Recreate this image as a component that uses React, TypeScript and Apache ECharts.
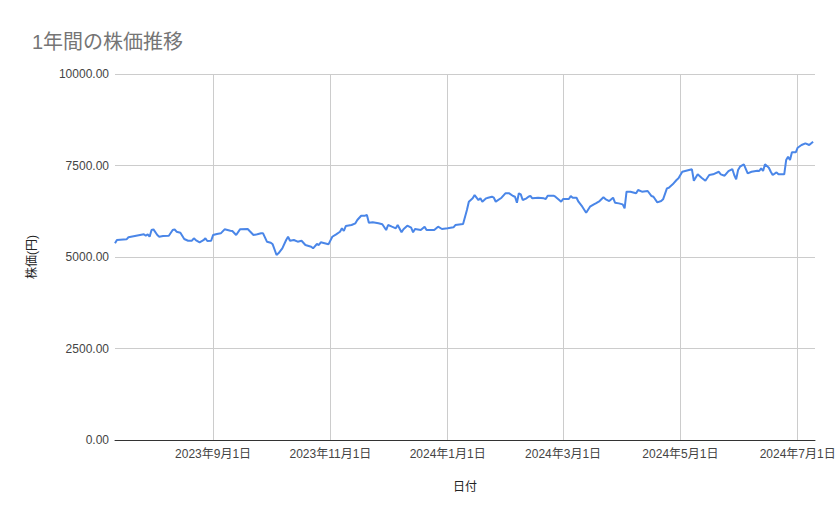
import React, { useEffect, useRef } from "react";
import * as echarts from "echarts";

const titleText = "1年間の株価推移";
const xAxisTitle = "日付";
const yAxisTitle = "株価(円)";

const dates: string[] = [
  "2023-07-12", "2023-07-13", "2023-07-18", "2023-07-19", "2023-07-25", "2023-07-27", "2023-07-28", "2023-07-29", "2023-07-30", "2023-07-31",
  "2023-08-01", "2023-08-03", "2023-08-04", "2023-08-06", "2023-08-09", "2023-08-11", "2023-08-12", "2023-08-13", "2023-08-15", "2023-08-17",
  "2023-08-19", "2023-08-21", "2023-08-22", "2023-08-23", "2023-08-25", "2023-08-27", "2023-08-28", "2023-08-29", "2023-08-31",
  "2023-09-01", "2023-09-03", "2023-09-05", "2023-09-07", "2023-09-10", "2023-09-11", "2023-09-13", "2023-09-15", "2023-09-19", "2023-09-20",
  "2023-09-22", "2023-09-24", "2023-09-26", "2023-09-27", "2023-09-29",
  "2023-10-01", "2023-10-02", "2023-10-04", "2023-10-05", "2023-10-07", "2023-10-09", "2023-10-10", "2023-10-11", "2023-10-13", "2023-10-15",
  "2023-10-17", "2023-10-19", "2023-10-22", "2023-10-23", "2023-10-25", "2023-10-26", "2023-10-27", "2023-10-29", "2023-10-31",
  "2023-11-02", "2023-11-04", "2023-11-06", "2023-11-07", "2023-11-08", "2023-11-09", "2023-11-12", "2023-11-14", "2023-11-15", "2023-11-17",
  "2023-11-19", "2023-11-20", "2023-11-21", "2023-11-23", "2023-11-26", "2023-11-28", "2023-11-30",
  "2023-12-01", "2023-12-03", "2023-12-05", "2023-12-06", "2023-12-08", "2023-12-09", "2023-12-11", "2023-12-13", "2023-12-14", "2023-12-15",
  "2023-12-18", "2023-12-20", "2023-12-21", "2023-12-25", "2023-12-27", "2023-12-29",
  "2024-01-01", "2024-01-04", "2024-01-05", "2024-01-09", "2024-01-11", "2024-01-12", "2024-01-14", "2024-01-15", "2024-01-17", "2024-01-18",
  "2024-01-19", "2024-01-21", "2024-01-22", "2024-01-24", "2024-01-25", "2024-01-26", "2024-01-29", "2024-01-31",
  "2024-02-02", "2024-02-04", "2024-02-05", "2024-02-06", "2024-02-07", "2024-02-08", "2024-02-09", "2024-02-11", "2024-02-12", "2024-02-13",
  "2024-02-14", "2024-02-17", "2024-02-20", "2024-02-21", "2024-02-22", "2024-02-25", "2024-02-26", "2024-02-28", "2024-02-29",
  "2024-03-01", "2024-03-04", "2024-03-05", "2024-03-06", "2024-03-08", "2024-03-09", "2024-03-11", "2024-03-13", "2024-03-15", "2024-03-17",
  "2024-03-18", "2024-03-20", "2024-03-22", "2024-03-23", "2024-03-25", "2024-03-27", "2024-03-28", "2024-03-30",
  "2024-04-01", "2024-04-02", "2024-04-03", "2024-04-05", "2024-04-08", "2024-04-09", "2024-04-11", "2024-04-14", "2024-04-16", "2024-04-17",
  "2024-04-19", "2024-04-21", "2024-04-22", "2024-04-24", "2024-04-25", "2024-04-27", "2024-04-29", "2024-04-30",
  "2024-05-02", "2024-05-04", "2024-05-07", "2024-05-08", "2024-05-10", "2024-05-12", "2024-05-14", "2024-05-16", "2024-05-18", "2024-05-21",
  "2024-05-22", "2024-05-24", "2024-05-26", "2024-05-28", "2024-05-29", "2024-05-30", "2024-05-31",
  "2024-06-01", "2024-06-03", "2024-06-05", "2024-06-07", "2024-06-10", "2024-06-11", "2024-06-12", "2024-06-13", "2024-06-14", "2024-06-16",
  "2024-06-17", "2024-06-18", "2024-06-20", "2024-06-21", "2024-06-24", "2024-06-25", "2024-06-26", "2024-06-27", "2024-06-28", "2024-06-30",
  "2024-07-01", "2024-07-03", "2024-07-05", "2024-07-07", "2024-07-09",
];

const prices: number[] = [
  5374, 5464, 5483, 5538, 5601, 5620, 5581, 5620, 5554, 5737,
  5756, 5601, 5554, 5573, 5581, 5737, 5756, 5691, 5663, 5491,
  5445, 5445, 5510, 5464, 5401, 5460, 5510, 5437, 5445,
  5601, 5628, 5647, 5756, 5718, 5710, 5601, 5756, 5765, 5710,
  5601, 5620, 5647, 5647, 5418,
  5390, 5346, 5054, 5100, 5237, 5464, 5554, 5445, 5464, 5418,
  5445, 5327, 5281, 5237, 5355, 5327, 5401, 5374, 5346,
  5554, 5620, 5691, 5783, 5710, 5846, 5874, 5920, 6010, 6128,
  6130, 6147, 5937, 5947, 5920, 5893, 5737,
  5874, 5828, 5783, 5874, 5674, 5756, 5856, 5800, 5674, 5765,
  5737, 5828, 5737, 5737, 5828, 5765,
  5783, 5810, 5874, 5901, 6284, 6511, 6603, 6693, 6557, 6603,
  6511, 6603, 6620, 6647, 6620, 6511, 6620, 6740,
  6740, 6666, 6647, 6483, 6740, 6712, 6557, 6603, 6647, 6670,
  6603, 6620, 6603, 6584, 6675, 6675, 6647, 6557, 6511,
  6584, 6584, 6666, 6620, 6620, 6511, 6374, 6210, 6374, 6438,
  6465, 6529, 6630, 6584, 6529, 6620, 6483, 6465,
  6438, 6329, 6784, 6784, 6740, 6830, 6784, 6803, 6666, 6647,
  6493, 6529, 6576, 6876, 6893, 6986, 7103, 7150,
  7330, 7357, 7396, 7084, 7259, 7166, 7084, 7240, 7259, 7330,
  7259, 7221, 7349, 7404, 7240, 7122, 7376,
  7467, 7532, 7286, 7330, 7357, 7349, 7423, 7349, 7532, 7440,
  7330, 7240, 7313, 7259, 7259, 7650, 7740, 7650, 7860, 7860,
  7986, 8060, 8106, 8060, 8150,
];

const xMin = "2023-07-12";
const xMax = "2024-07-10";
const yMin = 0;
const yMax = 10000;
const yInterval = 2500;

const latin = "'Liberation Sans', Arial, 'Noto Sans CJK JP', sans-serif";

export default function App() {
  const ref = useRef<HTMLDivElement>(null);

  useEffect(() => {
    if (!ref.current) return;
    const chart = echarts.init(ref.current, undefined, { renderer: "svg" });
    const seriesData = dates.map((d, i) => [d, prices[i]]);
    chart.setOption({
      animation: false,
      backgroundColor: "#ffffff",
      title: {
        text: titleText,
        left: 27,
        top: 27,
        textStyle: {
          fontSize: 20,
          color: "#757575",
          fontWeight: "normal",
          fontFamily: latin,
        },
      },
      grid: { left: 115, right: 24, top: 74, bottom: 79, containLabel: false },
      xAxis: {
        type: "time",
        min: xMin,
        max: xMax,
        splitNumber: 6,
        name: xAxisTitle,
        nameLocation: "middle",
        nameGap: 41,
        nameTextStyle: { fontSize: 12, color: "#222", fontFamily: latin },
        axisLine: { show: true, lineStyle: { color: "#333", width: 1 } },
        axisTick: { show: false },
        splitLine: {
          show: true,
          showMinLine: false,
          showMaxLine: false,
          lineStyle: { color: "#cccccc", width: 1 },
        },
        axisLabel: {
          showMinLabel: false,
          showMaxLabel: false,
          margin: 8,
          fontSize: 12,
          color: "#444",
          fontFamily: latin,
          formatter: (v: number) => {
            const d = new Date(v);
            return `${d.getFullYear()}年${d.getMonth() + 1}月${d.getDate()}日`;
          },
        },
      },
      yAxis: {
        type: "value",
        min: yMin,
        max: yMax,
        interval: yInterval,
        name: yAxisTitle,
        nameLocation: "middle",
        nameGap: 77,
        nameTextStyle: { fontSize: 12, color: "#222", fontFamily: latin },
        axisLine: { show: false },
        axisTick: { show: false },
        splitLine: { show: true, lineStyle: { color: "#cccccc", width: 1 } },
        axisLabel: {
          margin: 6,
          fontSize: 12,
          color: "#444",
          fontFamily: latin,
          formatter: (v: number) => v.toFixed(2),
        },
      },
      series: [
        {
          type: "line",
          data: seriesData,
          showSymbol: false,
          smooth: false,
          lineStyle: { color: "#4a86e8", width: 2 },
          itemStyle: { color: "#4a86e8" },
        },
      ],
    });
    return () => chart.dispose();
  }, []);

  return (
    <div
      ref={ref}
      style={{ position: "fixed", left: 0, top: 0, width: 839, height: 519, background: "#fff" }}
    />
  );
}
